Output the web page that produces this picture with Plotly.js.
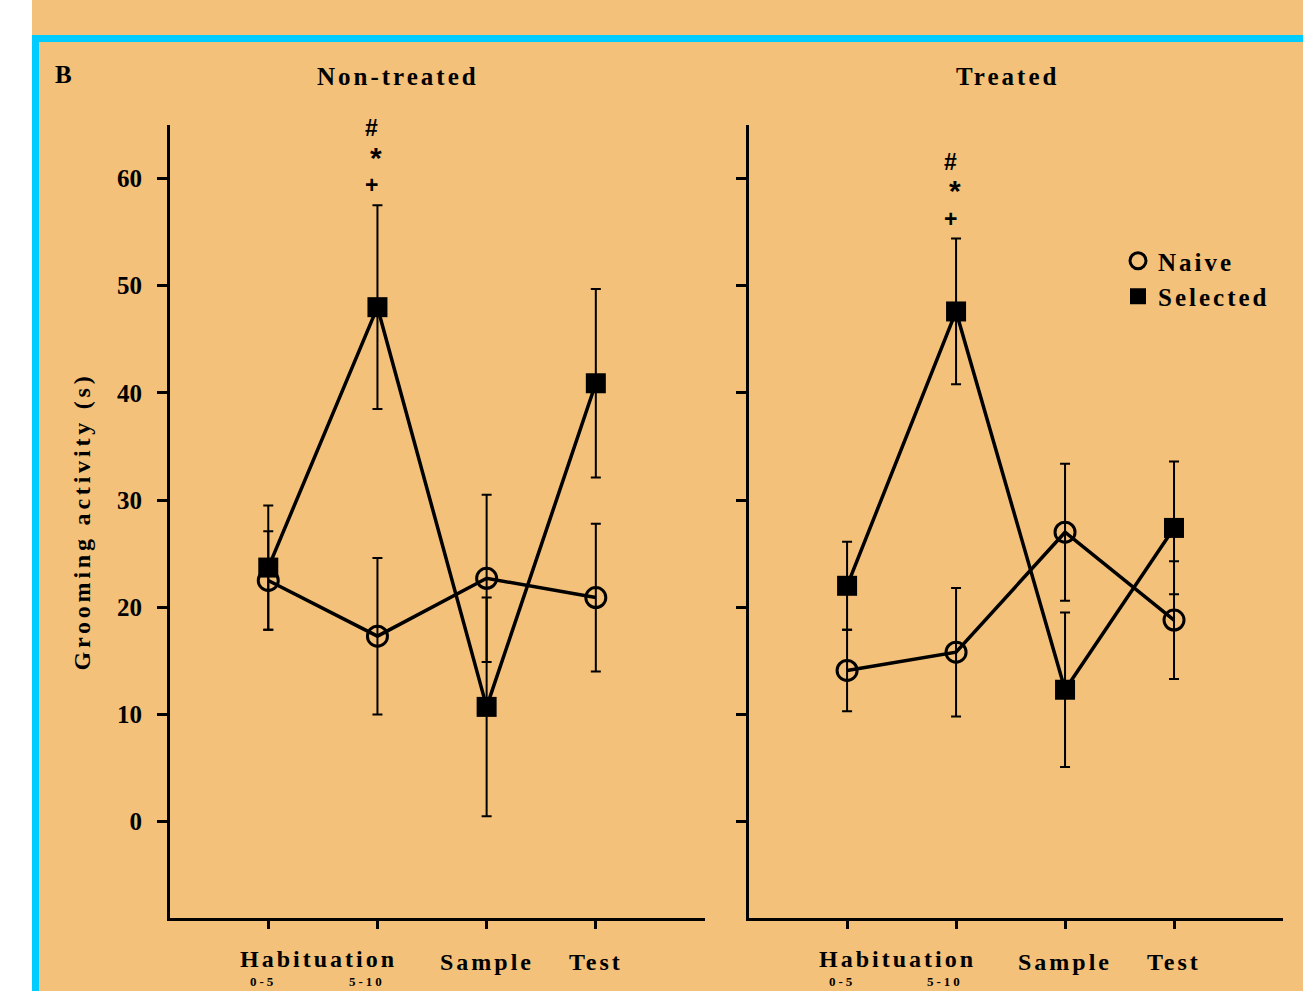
<!DOCTYPE html>
<html>
<head>
<meta charset="utf-8">
<script src="https://cdn.plot.ly/plotly-3.0.1.min.js"></script>
<style>
  html, body { margin: 0; padding: 0; background: #ffffff; }
  #chart { width: 1303px; height: 991px; }
  .annotation-text, .legendtext { letter-spacing: 3px; }
  .ytitle { letter-spacing: 3.8px; }
</style>
</head>
<body>
<div id="chart"></div>
<script>
// Grooming activity (s), mean ± SEM per test phase
const categories = ['Habituation 0-5', 'Habituation 5-10', 'Sample', 'Test'];
const phaseLabels = ['Habituation', 'Sample', 'Test'];
const binLabels = ['0-5', '5-10'];
const yTicks = [0, 10, 20, 30, 40, 50, 60];

const nonTreatedNaive = [22.5, 17.3, 22.7, 20.9];
const nonTreatedNaiveErr = [4.6, 7.3, 7.8, 6.9];
const nonTreatedSelected = [23.7, 48.0, 10.7, 40.9];
const nonTreatedSelectedErr = [5.8, 9.5, 10.2, 8.8];

const treatedNaive = [14.1, 15.8, 27.0, 18.8];
const treatedNaiveErr = [3.8, 6.0, 6.4, 5.5];
const treatedSelected = [22.0, 47.6, 12.3, 27.4];
const treatedSelectedErr = [4.1, 6.8, 7.2, 6.2];

const sigSymbols = ['#', '*', '+'];
const sigIndex = 1; // Habituation 5-10

// ---- styling ----
const TAN = 'rgb(243,193,122)';
const CYAN = '#00CCFF';
const SERIF = 'Liberation Serif, Times New Roman, serif';
const W = 1303, H = 991;
const px = v => v / W;
const py = v => 1 - v / H;

const xPos = categories.map((c, i) => i + 1);

function series(y, err, xa, ya, kind, name) {
  const naive = kind === 'naive';
  return {
    type: 'scatter', mode: 'lines+markers',
    x: xPos, y: y, xaxis: xa, yaxis: ya, name: name, showlegend: false,
    line: { color: '#000', width: 3.5 },
    marker: naive
      ? { symbol: 'circle-open', size: 20, color: '#000', line: { width: 3, color: '#000' } }
      : { symbol: 'square', size: 20, color: '#000' },
    error_y: { type: 'data', array: err, visible: true, color: '#000', thickness: 2, width: 5 },
    cliponaxis: false
  };
}

const traces = [
  series(nonTreatedNaive, nonTreatedNaiveErr, 'x', 'y', 'naive', 'Naive'),
  series(nonTreatedSelected, nonTreatedSelectedErr, 'x', 'y', 'sel', 'Selected'),
  series(treatedNaive, treatedNaiveErr, 'x2', 'y2', 'naive', 'Naive'),
  series(treatedSelected, treatedSelectedErr, 'x2', 'y2', 'sel', 'Selected'),
  // legend entries
  { type: 'scatter', mode: 'markers', x: [null], y: [null], name: 'Naive', xaxis: 'x2', yaxis: 'y2',
    marker: { symbol: 'circle-open', size: 16, color: '#000', line: { width: 3, color: '#000' } } },
  { type: 'scatter', mode: 'markers', x: [null], y: [null], name: 'Selected', xaxis: 'x2', yaxis: 'y2',
    marker: { symbol: 'square', size: 16, color: '#000' } }
];

const yDomain = [py(918), py(125)];
const axisCommon = {
  showgrid: false, zeroline: false, showline: true, linecolor: '#000', linewidth: 3,
  ticks: 'outside', tickcolor: '#000', tickwidth: 3, fixedrange: true
};
const xCommon = Object.assign({}, axisCommon, {
  range: [0.1, 5.0], tickmode: 'array', tickvals: xPos, ticklen: 8, showticklabels: false
});
const yCommon = Object.assign({}, axisCommon, {
  range: [-9, 65], tickmode: 'array', tickvals: yTicks, ticklen: 10, domain: yDomain,
  tickfont: { family: SERIF, size: 25, color: '#000', weight: 'bold' }
});

const annotations = [];
function addText(text, x, y, xref, yref, opts) {
  annotations.push(Object.assign({
    text: text, x: x, y: y, xref: xref, yref: yref, showarrow: false,
    font: { family: SERIF, size: 24, color: '#000', weight: 'bold' }
  }, opts || {}));
}

addText('B', px(53), py(75), 'paper', 'paper', { xanchor: 'left', yanchor: 'middle', font: { family: SERIF, size: 25, color: '#000', weight: 'bold' } });
addText('Non-treated', px(398), py(76), 'paper', 'paper', { xanchor: 'center', yanchor: 'middle', font: { family: SERIF, size: 25, color: '#000', weight: 'bold' } });
addText('Treated', px(1007), py(76), 'paper', 'paper', { xanchor: 'center', yanchor: 'middle', font: { family: SERIF, size: 25, color: '#000', weight: 'bold' } });

// category labels below each x axis
const binFont = { family: SERIF, size: 13, color: '#000', weight: 'bold' };
['x', 'x2'].forEach(xa => {
  addText(phaseLabels[0], (xPos[0] + xPos[1]) / 2 - 0.04, py(959), xa, 'paper', { yanchor: 'middle' });
  addText(phaseLabels[1], xPos[2], py(962), xa, 'paper', { yanchor: 'middle' });
  addText(phaseLabels[2], xPos[3], py(962), xa, 'paper', { yanchor: 'middle' });
  addText(binLabels[0], xPos[0] - 0.05, py(991), xa, 'paper', { yanchor: 'bottom', font: binFont });
  addText(binLabels[1], xPos[1] - 0.1, py(991), xa, 'paper', { yanchor: 'bottom', font: binFont });
});

// significance marks above Habituation 5-10, Selected
const sigShifts = [77, 48, 20];
[['x', 'y', nonTreatedSelected, nonTreatedSelectedErr], ['x2', 'y2', treatedSelected, treatedSelectedErr]].forEach(p => {
  const top = p[2][sigIndex] + p[3][sigIndex];
  sigSymbols.forEach((s, k) => {
    addText(s, xPos[sigIndex], top, p[0], p[1], {
      yanchor: 'middle', yshift: sigShifts[k], xshift: k === 1 ? 0 : -4,
      font: { family: 'Liberation Sans, Arial, sans-serif', size: k === 1 ? 30 : 23, color: '#000', weight: 'bold' }
    });
  });
});

const layout = {
  width: W, height: H,
  margin: { l: 0, r: 0, t: 0, b: 0 },
  paper_bgcolor: TAN, plot_bgcolor: 'rgba(0,0,0,0)',
  showlegend: true,
  legend: {
    x: px(1118), y: py(238), xanchor: 'left', yanchor: 'top',
    bgcolor: 'rgba(0,0,0,0)', borderwidth: 0,
    font: { family: SERIF, size: 25, color: '#000', weight: 'bold' },
    itemclick: false, itemdoubleclick: false
  },
  xaxis: Object.assign({}, xCommon, { domain: [px(170), px(705)], anchor: 'y' }),
  yaxis: Object.assign({}, yCommon, {
    anchor: 'x', ticklabelstandoff: 10,
    title: { text: 'Grooming activity (s)', standoff: 20,
      font: { family: SERIF, size: 24, color: '#000', weight: 'bold' } }
  }),
  xaxis2: Object.assign({}, xCommon, { domain: [px(749), px(1283)], anchor: 'y2' }),
  yaxis2: Object.assign({}, yCommon, { anchor: 'x2', showticklabels: false }),
  annotations: annotations,
  shapes: [
    { type: 'rect', xref: 'paper', yref: 'paper', x0: 0, x1: px(32), y0: 0, y1: 1,
      fillcolor: '#ffffff', line: { width: 0 }, layer: 'below' },
    { type: 'rect', xref: 'paper', yref: 'paper', x0: px(32), x1: px(39), y0: 0, y1: py(35),
      fillcolor: CYAN, line: { width: 0 }, layer: 'below' },
    { type: 'rect', xref: 'paper', yref: 'paper', x0: px(32), x1: 1, y0: py(42), y1: py(35),
      fillcolor: CYAN, line: { width: 0 }, layer: 'below' }
  ]
};

Plotly.newPlot('chart', traces, layout, { displayModeBar: false, staticPlot: true });
</script>
</body>
</html>
